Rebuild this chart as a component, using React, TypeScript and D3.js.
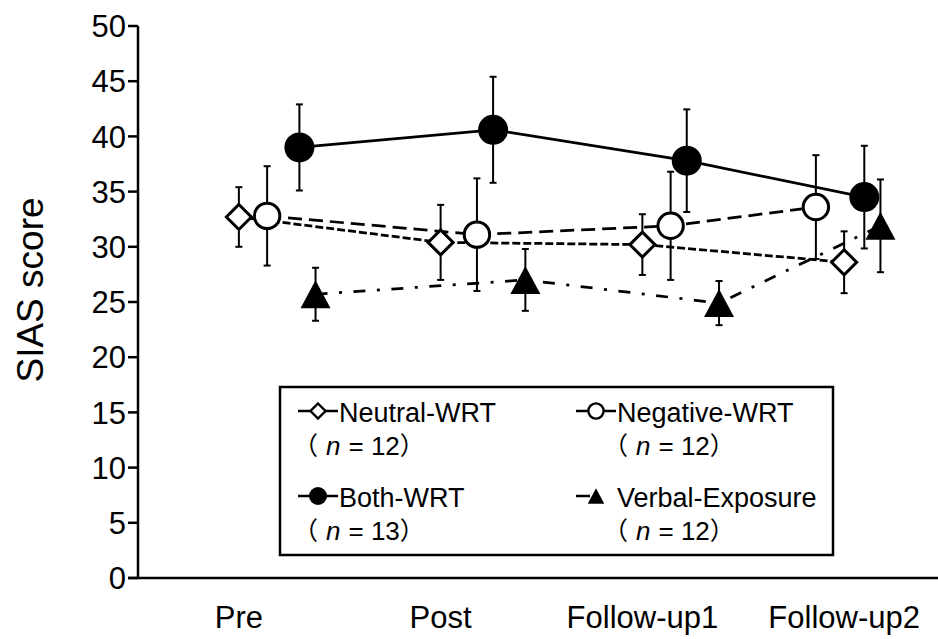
import * as React from 'react';
import * as d3 from 'd3';

// time points and group data (mean SIAS score, standard error)
const categories = ['Pre', 'Post', 'Follow-up1', 'Follow-up2'];
const seriesNames = ['Neutral-WRT', 'Negative-WRT', 'Both-WRT', 'Verbal-Exposure'];
const groupN = [12, 12, 13, 12];

// x values are in time-point units (points are slightly staggered per group)
const neutralX = [1, 2, 3, 4];
const neutralMean = [32.7, 30.4, 30.2, 28.6];
const neutralSE = [2.7, 3.4, 2.75, 2.8];

const negativeX = [1.14, 2.18, 3.14, 3.86];
const negativeMean = [32.8, 31.1, 31.9, 33.6];
const negativeSE = [4.5, 5.1, 4.9, 4.7];

const bothX = [1.3, 2.26, 3.22, 4.1];
const bothMean = [39.0, 40.6, 37.8, 34.5];
const bothSE = [3.9, 4.8, 4.65, 4.65];

const verbalX = [1.38, 2.42, 3.38, 4.18];
const verbalMean = [25.7, 27.0, 24.9, 31.9];
const verbalSE = [2.4, 2.8, 2.0, 4.2];

const W = 938;
const H = 639;
const FONT = "'Liberation Sans', Arial, sans-serif";
const CJK = "'Noto Sans CJK JP', 'Noto Sans CJK SC', sans-serif";

const x = d3.scaleLinear().domain([0.5, 4.5]).range([138, 945]);
const y = d3.scaleLinear().domain([0, 50]).range([578, 26]);

const series = [
  { name: seriesNames[0], xs: neutralX, mean: neutralMean, se: neutralSE, marker: 'diamond', dash: '8,3' },
  { name: seriesNames[1], xs: negativeX, mean: negativeMean, se: negativeSE, marker: 'circleOpen', dash: '14,7' },
  { name: seriesNames[2], xs: bothX, mean: bothMean, se: bothSE, marker: 'circleFilled', dash: null },
  { name: seriesNames[3], xs: verbalX, mean: verbalMean, se: verbalSE, marker: 'triangle', dash: '12,11.5,3,11.5' },
];

function Marker({ type, cx, cy, k = 1 }) {
  if (type === 'diamond') {
    const r = 12.5 * k;
    return <path d={`M${cx},${cy - r}L${cx + r},${cy}L${cx},${cy + r}L${cx - r},${cy}Z`}
      fill="white" stroke="black" strokeWidth={3 * Math.max(k, 0.8)} strokeLinejoin="miter" />;
  }
  if (type === 'circleOpen') {
    return <circle cx={cx} cy={cy} r={12.7 * k} fill="white" stroke="black" strokeWidth={3 * Math.max(k, 0.8)} />;
  }
  if (type === 'circleFilled') {
    return <circle cx={cx} cy={cy} r={15 * k} fill="black" />;
  }
  const hw = 15 * k, hh = 14 * k;
  return <path d={`M${cx},${cy - hh}L${cx + hw},${cy + hh}L${cx - hw},${cy + hh}Z`} fill="black" />;
}

export default function App() {
  const line = d3.line<[number, number]>().x(d => x(d[0])).y(d => y(d[1]));

  const legendCols = [
    { lineX: 298, textX: 339, nX: 293 },
    { lineX: 576, textX: 617, nX: 603 },
  ];
  const legendRows = [422, 507];

  return (
    <svg width={W} height={H} style={{ position: 'absolute', left: 0, top: 0, background: 'white' }}
      fontFamily={FONT}>
      <rect width={W} height={H} fill="white" />

      {/* axes */}
      <g stroke="black" strokeWidth={2.5}>
        <line x1={138} x2={138} y1={y(50)} y2={y(0)} />
        <line x1={128} x2={W} y1={y(0)} y2={y(0)} />
        {y.ticks(10).map(t => (
          <line key={t} x1={128} x2={138} y1={y(t)} y2={y(t)} />
        ))}
      </g>
      {y.ticks(10).map(t => (
        <text key={t} x={126} y={y(t)} dy="0.36em" textAnchor="end" fontSize={31}>{t}</text>
      ))}
      {categories.map((c, i) => (
        <text key={c} x={x(i + 1)} y={628} textAnchor="middle" fontSize={31}>{c}</text>
      ))}
      <text transform={`translate(43,290) rotate(-90)`} textAnchor="middle" fontSize={37}>SIAS score</text>

      {/* error bars */}
      {series.map(s => (
        <g key={s.name + 'err'} stroke="black" strokeWidth={2}>
          {s.mean.map((m, i) => {
            const px = x(s.xs[i]);
            return (
              <g key={i}>
                <line x1={px} x2={px} y1={y(m + s.se[i])} y2={y(m - s.se[i])} />
                <line x1={px - 3.5} x2={px + 3.5} y1={y(m + s.se[i])} y2={y(m + s.se[i])} />
                <line x1={px - 3.5} x2={px + 3.5} y1={y(m - s.se[i])} y2={y(m - s.se[i])} />
              </g>
            );
          })}
        </g>
      ))}

      {/* lines */}
      {series.map(s => (
        <path key={s.name + 'line'} d={line(s.xs.map((v, i) => [v, s.mean[i]]))} fill="none"
          stroke="black" strokeWidth={2.75} strokeDasharray={s.dash || undefined} />
      ))}

      {/* markers */}
      {series.map(s => (
        <g key={s.name + 'mk'}>
          {s.mean.map((m, i) => <Marker key={i} type={s.marker} cx={x(s.xs[i])} cy={y(m)} />)}
        </g>
      ))}

      {/* legend */}
      <rect x={280} y={387} width={553} height={168} fill="white" stroke="black" strokeWidth={2.5} />
      {series.map((s, i) => {
        const col = legendCols[i % 2];
        const by = legendRows[Math.floor(i / 2)];
        const ly = by - 11;
        const isTri = s.marker === 'triangle';
        return (
          <g key={s.name + 'lg'}>
            <line x1={col.lineX} x2={col.lineX + (isTri ? 14 : 40)} y1={ly} y2={ly} stroke="black" strokeWidth={2.5} />
            <Marker type={s.marker} cx={col.lineX + 20} cy={ly} k={isTri ? 0.55 : 0.6} />
            <text x={col.textX} y={by} fontSize={27}>{s.name}</text>
            <text x={col.nX} y={by + 33} fontSize={26}>
              <tspan fontFamily={CJK} fontSize={25}>（</tspan>
              <tspan dx={8} fontStyle="italic">n</tspan>
              <tspan dx={8}>= {groupN[i]}</tspan>
              <tspan fontFamily={CJK} fontSize={25}>）</tspan>
            </text>
          </g>
        );
      })}
    </svg>
  );
}
